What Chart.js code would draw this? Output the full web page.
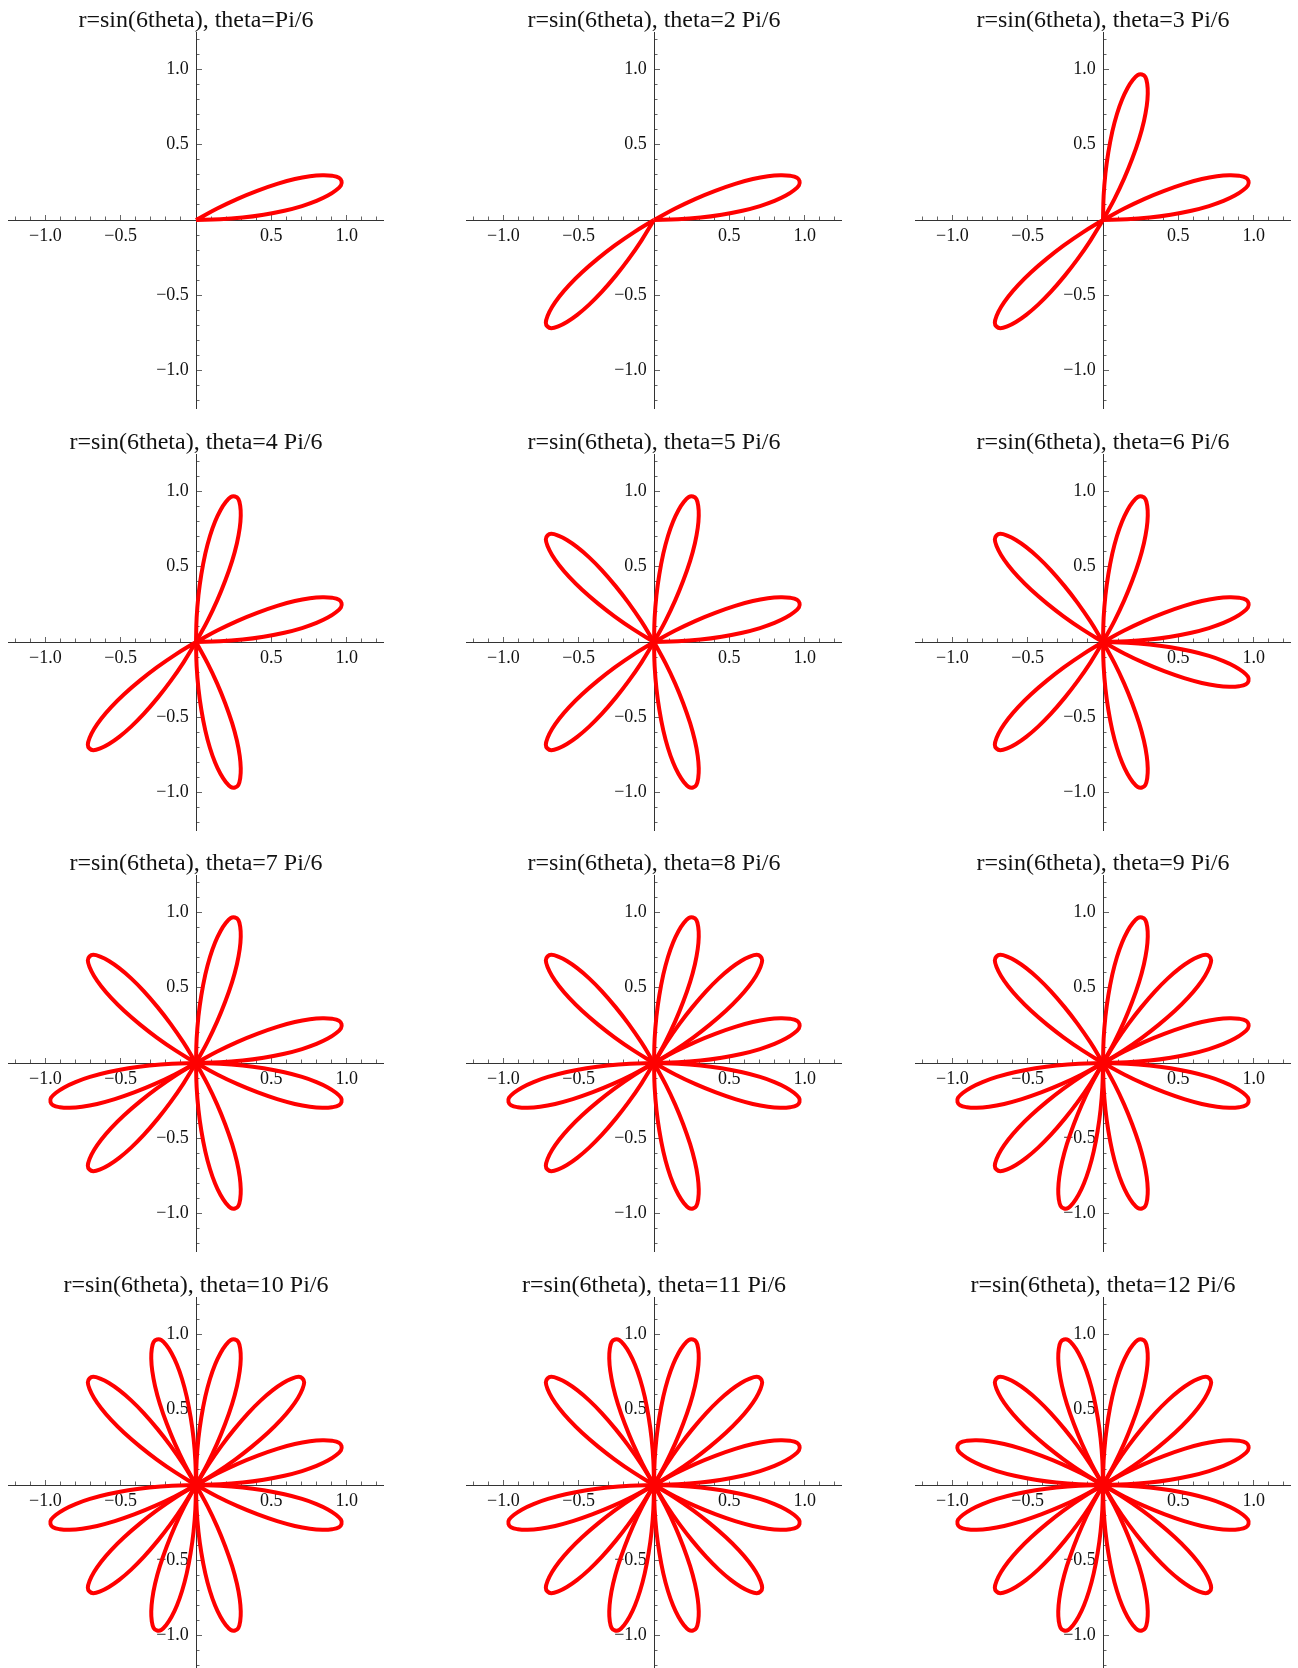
<!DOCTYPE html>
<html>
<head>
<meta charset="utf-8">
<script src="https://cdn.jsdelivr.net/npm/chart.js@4.4.1/dist/chart.umd.min.js"></script>
<style>
  html, body { margin: 0; padding: 0; background: #fff; }
  body { width: 1298px; height: 1668px; position: relative; overflow: hidden; }
  canvas { position: absolute; }
</style>
</head>
<body>
<script>
//petal tip directions (degrees) in the order they get drawn
const petalAngleDeg = [15, 225, 75, 285, 135, 345, 195, 45, 255, 105, 315, 165];
//shape of one petal: angle from its tip and radius there
const petalOffsetDeg = [-15, -13.5, -12, -10.5, -9, -7.5, -6, -4.5, -3, -1.5, 0, 1.5, 3, 4.5, 6, 7.5, 9, 10.5, 12, 13.5, 15];
const petalRadius = [0, 0.16, 0.31, 0.45, 0.59, 0.71, 0.81, 0.89, 0.95, 0.99, 1, 0.99, 0.95, 0.89, 0.81, 0.71, 0.59, 0.45, 0.31, 0.16, 0];
//how many petals each panel shows
const panelPetals = [1, 2, 3, 4, 5, 6, 7, 8, 9, 10, 11, 12];
const panelTitles = [
    'r=sin(6theta), theta=Pi/6',
    'r=sin(6theta), theta=2 Pi/6',
    'r=sin(6theta), theta=3 Pi/6',
    'r=sin(6theta), theta=4 Pi/6',
    'r=sin(6theta), theta=5 Pi/6',
    'r=sin(6theta), theta=6 Pi/6',
    'r=sin(6theta), theta=7 Pi/6',
    'r=sin(6theta), theta=8 Pi/6',
    'r=sin(6theta), theta=9 Pi/6',
    'r=sin(6theta), theta=10 Pi/6',
    'r=sin(6theta), theta=11 Pi/6',
    'r=sin(6theta), theta=12 Pi/6'
];
//axis ticks
const tickValues = [-1, -0.5, 0.5, 1];
const tickLabels = ['\u22121.0', '\u22120.5', '0.5', '1.0'];
const axisMin = -1.248;
const axisMax = 1.248;

//layout of the grid (axis crossing point of each panel)
const colAxisX = [196, 654, 1103];
const rowAxisY = [220, 642, 1063, 1485];
const half = 188;
const titleH = 22;
const bottomPad = 20;

Chart.defaults.font.family = "'Liberation Serif', 'Times New Roman', serif";

//turn a petal into x,y points
function petalPoints(angleDeg){
    let pts = [];
    for(let i=0;i<petalOffsetDeg.length;i++){
        let a = (angleDeg + petalOffsetDeg[i]) * Math.PI / 180;
        pts.push({x: petalRadius[i] * Math.cos(a), y: petalRadius[i] * Math.sin(a)});
    }
    return pts;
}

function tickLabel(value){
    for(let i=0;i<tickValues.length;i++){
        if(Math.abs(tickValues[i] - value) < 1e-6) return tickLabels[i];
    }
    return '';
}

//y labels sit right on the axis line, so push them off it a bit
function yTickLabel(value){
    let s = tickLabel(value);
    return s ? s + '\u2009\u2009' : '';
}

const axisColor = '#333';
const tickColor = '#666';
const labelFont = {size: 18, lineHeight: 1.2};

function scales(){
    return {
        x: {
            type: 'linear', min: axisMin, max: axisMax, position: {y: 0}, z: 1,
            ticks: {stepSize: 0.5, includeBounds: false, autoSkip: false, maxRotation: 0,
                    padding: 11, color: '#111', font: labelFont, callback: tickLabel},
            grid: {drawOnChartArea: false, tickLength: -6, tickColor: tickColor, tickWidth: 1},
            border: {color: axisColor, width: 1}
        },
        xMinor: {
            type: 'linear', axis: 'x', min: axisMin, max: axisMax, position: {y: 0}, z: 1,
            ticks: {stepSize: 0.1, includeBounds: false, autoSkip: false, maxRotation: 0, callback: () => ''},
            grid: {drawOnChartArea: false, tickLength: -3.5, tickColor: tickColor, tickWidth: 1},
            border: {display: false}
        },
        y: {
            type: 'linear', min: axisMin, max: axisMax, position: {x: 0}, z: 1,
            ticks: {stepSize: 0.5, includeBounds: false, autoSkip: false,
                    padding: 6, color: '#111', font: labelFont, callback: yTickLabel},
            grid: {drawOnChartArea: false, tickLength: -6, tickColor: tickColor, tickWidth: 1},
            border: {color: axisColor, width: 1}
        },
        yMinor: {
            type: 'linear', axis: 'y', min: axisMin, max: axisMax, position: {x: 0}, z: 1,
            ticks: {stepSize: 0.1, includeBounds: false, autoSkip: false, callback: () => ''},
            grid: {drawOnChartArea: false, tickLength: -3.5, tickColor: tickColor, tickWidth: 1},
            border: {display: false}
        }
    };
}

for(let p=0;p<panelPetals.length;p++){
    let col = p % 3;
    let row = Math.floor(p / 3);

    let canvas = document.createElement('canvas');
    canvas.width = half * 2;
    canvas.height = half * 2 + titleH + bottomPad;
    canvas.style.left = (colAxisX[col] - half) + 'px';
    canvas.style.top = (rowAxisY[row] - half - titleH) + 'px';
    document.body.appendChild(canvas);

    let datasets = [];
    for(let k=0;k<panelPetals[p];k++){
        datasets.push({
            data: petalPoints(petalAngleDeg[k]),
            showLine: true,
            borderColor: '#ff0000',
            borderWidth: 4,
            pointRadius: 0,
            tension: 0.4
        });
    }

    new Chart(canvas.getContext('2d'), {
        type: 'scatter',
        data: {datasets: datasets},
        options: {
            responsive: false,
            animation: false,
            events: [],
            layout: {padding: {top: 0, left: 0, right: 0, bottom: bottomPad}, autoPadding: false},
            plugins: {
                legend: {display: false},
                tooltip: {enabled: false},
                title: {
                    display: true,
                    text: panelTitles[p],
                    color: '#111',
                    font: {size: 24, weight: 'normal', lineHeight: titleH / 24},
                    padding: {top: 0, bottom: 0}
                }
            },
            scales: scales()
        }
    });
}
</script>
</body>
</html>
